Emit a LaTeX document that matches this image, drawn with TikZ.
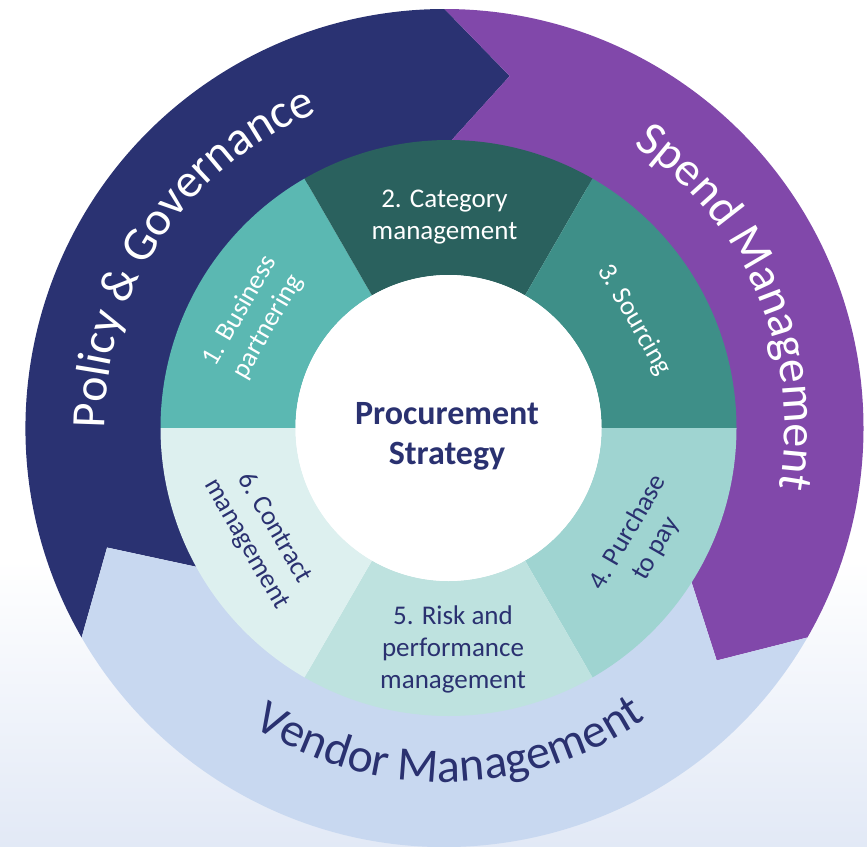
\documentclass[tikz,border=0pt]{standalone}
\usepackage{fontspec}
\setmainfont{Carlito}
\usetikzlibrary{decorations.text}
\definecolor{navy}{RGB}{42,50,114}
\definecolor{purp}{RGB}{129,72,170}
\definecolor{vend}{RGB}{200,216,240}
\definecolor{sA}{RGB}{91,184,178}
\definecolor{sB}{RGB}{42,97,94}
\definecolor{sC}{RGB}{62,143,136}
\definecolor{sD}{RGB}{159,212,209}
\definecolor{sE}{RGB}{190,226,223}
\definecolor{sF}{RGB}{221,240,239}
\definecolor{bgb}{RGB}{226,233,246}
\definecolor{txt}{RGB}{42,49,112}
\tikzset{
  lab/.style={font=\fontsize{27}{32}\selectfont, align=center, inner sep=0pt},
  labw/.style={lab, text=white},
  labn/.style={lab, text=txt},
  ringtext/.style={decorate, decoration={text along path, text align=center, text color=#1}},
}
\begin{document}
\begin{tikzpicture}[x=1pt,y=1pt]
\useasboundingbox (0,-846) rectangle (867,0);
\shade[top color=white,bottom color=bgb] (0,-846) rectangle (867,-560);
% outer arrow ring
\begin{scope}[shift={(444.5,-428)}]
  \fill[navy] (210:419pt) arc[start angle=210,end angle=90,radius=419pt]
     -- (79.5:358pt) -- (90:280pt) arc[start angle=90,end angle=210,radius=280pt]
     -- (199.5:358pt) -- cycle;
  \fill[purp] (90:419pt) arc[start angle=90,end angle=-30,radius=419pt]
     -- (-40.5:358pt) -- (-30:280pt) arc[start angle=-30,end angle=90,radius=280pt]
     -- (79.5:358pt) -- cycle;
  \fill[vend] (-30:419pt) arc[start angle=-30,end angle=-150,radius=419pt]
     -- (-160.5:358pt) -- (-150:280pt) arc[start angle=-150,end angle=-30,radius=280pt]
     -- (-40.5:358pt) -- cycle;
  \path[ringtext=white, decoration={text={|\fontsize{48}{48}\selectfont|Policy {\&} Governance}}]
     (191:340pt) arc[start angle=191,end angle=101,radius=340pt];
  \path[ringtext=white, decoration={text={|\fontsize{48}{48}\selectfont|Spend Management}}]
     (68:340pt) arc[start angle=68,end angle=-22,radius=340pt];
  \path[ringtext=txt, decoration={text={|\fontsize{48}{48}\selectfont|Vendor Management}}]
     (226:354pt) arc[start angle=226,end angle=316,radius=354pt];
\end{scope}
% inner segments
\begin{scope}[shift={(448.5,-428)}]
  \foreach \a/\b/\c in {120/180/sA, 60/120/sB, 0/60/sC, -60/0/sD, -120/-60/sE, 180/240/sF}{
    \fill[\c] (\a:153pt) -- (\a:288pt) arc[start angle=\a,end angle=\b,radius=288pt]
       -- (\b:153pt) arc[start angle=\b,end angle=\a,radius=153pt] -- cycle;
  }
  \fill[white] (0,0) circle[radius=153pt];
  \node[labw, rotate=60] (l1) at (150.7:223pt) {1. Business\\partnering};
  \node[labw, rotate=-60] (l3) at (30.2:215pt) {3. Sourcing};
  \node[labn, rotate=60] (l4) at (-30.2:224pt) {4. Purchase\\to pay};
  \node[labn, rotate=-60] (l6) at (209.8:217pt) {6. Contract\\management};
\end{scope}
\node[labw] (l2) at (444.5,-217) {2. Category\\management};
\node[labn] (l5) at (453,-649) {5. Risk and\\performance\\management};
\node[font=\bfseries\fontsize{34}{40}\selectfont, text=txt, align=center, inner sep=0pt] (ps) at (447,-436) {Procurement\\Strategy};
\end{tikzpicture}
\end{document}
